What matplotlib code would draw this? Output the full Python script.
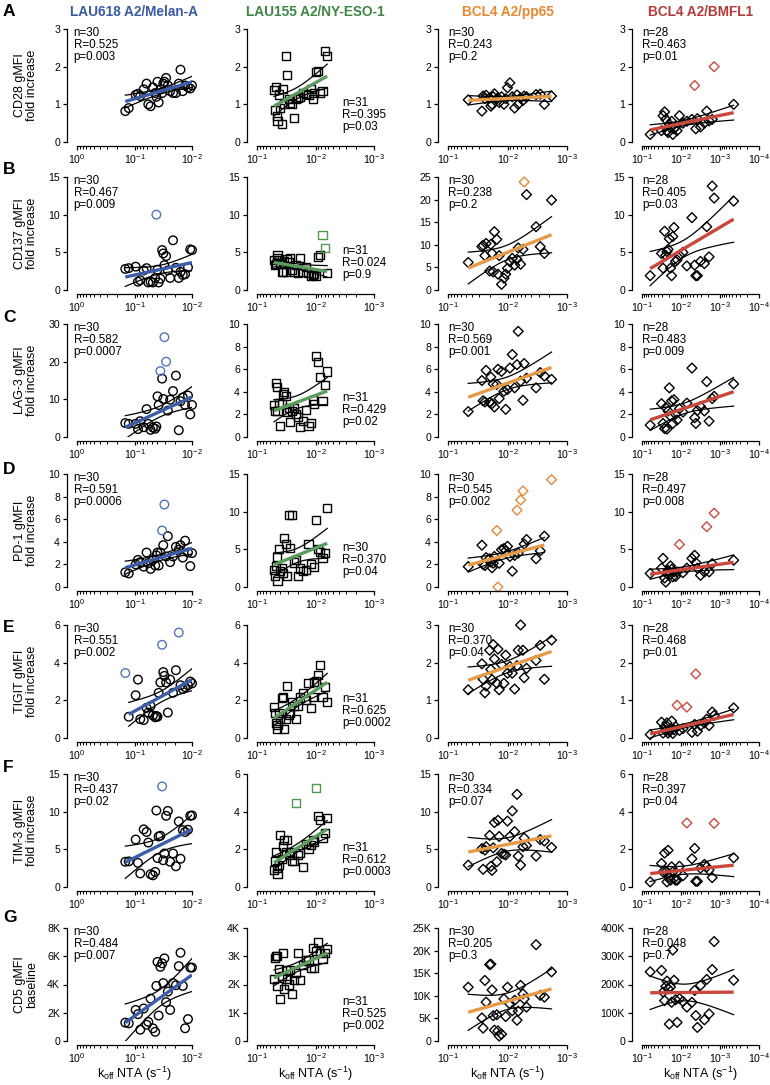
"""Koff vs. activation-marker correlation grid (7 markers x 4 TCR panels)."""
import matplotlib
matplotlib.use("Agg")
import matplotlib.pyplot as plt
import numpy as np
from matplotlib.ticker import FixedLocator, LogLocator, NullFormatter

plt.rcParams.update({
    "font.family": "Liberation Sans",
    "mathtext.fontset": "custom",
    "mathtext.rm": "Liberation Sans",
    "mathtext.it": "Liberation Sans:italic",
    "mathtext.bf": "Liberation Sans:bold",
    "axes.linewidth": 0.9,
})

# ── koff NTA per TCR panel (log10 s^-1) ──────────────────────────────────────
LOGK_MELAN = [-0.84, -0.90, -1.02, -1.06, -1.10, -1.16, -1.21, -1.24, -1.28, -1.32,
              -1.36, -1.38, -1.40, -1.42, -1.45, -1.48, -1.50, -1.52, -1.55, -1.58,
              -1.62, -1.67, -1.72, -1.77, -1.80, -1.84, -1.88, -1.93, -1.97, -2.00]
LOGK_NYESO = [-1.29, -1.31, -1.33, -1.34, -1.35, -1.38, -1.40, -1.42, -1.44, -1.46,
              -1.49, -1.52, -1.54, -1.57, -1.60, -1.63, -1.66, -1.70, -1.74, -1.78,
              -1.83, -1.88, -1.92, -1.95, -1.98, -2.01, -2.05, -2.08, -2.12, -2.16, -2.20]
LOGK_PP65 = [-1.34, -1.57, -1.59, -1.62, -1.64, -1.70, -1.72, -1.74, -1.76, -1.78,
             -1.82, -1.84, -1.86, -1.90, -1.94, -1.97, -2.00, -2.04, -2.08, -2.12,
             -2.16, -2.18, -2.22, -2.26, -2.28, -2.32, -2.48, -2.55, -2.62, -2.74]
LOGK_BMFL1 = [-1.21, -1.50, -1.54, -1.58, -1.61, -1.64, -1.67, -1.70, -1.73, -1.76,
              -1.79, -1.82, -1.86, -1.90, -1.96, -2.05, -2.15, -2.28, -2.35, -2.38,
              -2.42, -2.50, -2.60, -2.66, -2.72, -2.80, -2.85, -3.35]

# ── gMFI values (same clone order as koff) ───────────────────────────────────
CD28_MELAN = [0.82, 0.9, 1.25, 1.28, 1.22, 1.4, 1.55, 1.0, 0.95, 1.45, 1.3, 1.2, 1.6, 1.05, 1.4,
              1.3, 1.55, 1.6, 1.7, 1.5, 1.35, 1.3, 1.3, 1.55, 1.92, 1.35, 1.5, 1.45, 1.42, 1.5]
CD28_NYESO = [1.38, 0.86, 1.47, 0.69, 0.56, 1.26, 0.91, 0.47, 1.41, 1.0, 2.28, 1.77, 1.13, 1.04,
              1.0, 0.63, 1.13, 1.17, 1.2, 1.31, 1.28, 1.25, 1.4, 1.13, 1.31, 1.85, 1.88, 1.31,
              1.35, 2.41, 2.28]
CD28_PP65 = [1.12, 0.82, 1.22, 1.15, 1.24, 1.17, 0.95, 1.0, 1.2, 1.28, 1.15, 1.17, 1.05, 1.2, 1.0,
             1.15, 1.44, 1.57, 1.2, 0.9, 1.25, 1.0, 1.17, 1.1, 1.22, 1.2, 1.26, 1.27, 1.0, 1.22]
CD28_BMFL1 = [0.2, 0.3, 0.7, 0.8, 0.6, 0.3, 0.25, 0.47, 0.38, 0.55, 0.2, 0.35, 0.4, 0.3, 0.7,
              0.5, 0.55, 0.6, 1.5, 0.35, 0.62, 0.4, 0.5, 0.82, 0.56, 0.6, 2.0, 1.0]

CD137_MELAN = [2.8, 2.9, 3.1, 1.1, 1.3, 2.6, 2.9, 1.0, 1.1, 1.0, 1.6, 10.0, 2.7, 1.0, 1.5, 5.3,
               4.85, 3.3, 4.5, 2.6, 1.6, 6.6, 2.95, 1.6, 2.4, 2.0, 2.1, 3.0, 5.4, 5.3]
CD137_NYESO = [4.0, 3.3, 3.5, 4.3, 4.7, 4.0, 3.6, 2.4, 2.4, 3.9, 2.4, 4.1, 3.7, 4.2, 2.6, 2.4,
               3.3, 2.3, 4.2, 2.4, 3.1, 2.3, 1.9, 2.0, 2.1, 1.9, 4.4, 4.6, 7.3, 5.6, 2.3]
CD137_PP65 = [6.1, 9.6, 9.9, 7.6, 10.3, 4.2, 10.1, 8.1, 4.0, 12.9, 11.2, 3.5, 7.6, 1.25, 2.6,
              3.5, 4.8, 6.25, 7.0, 5.5, 6.8, 9.3, 5.7, 9.0, 23.9, 21.1, 14.0, 9.6, 8.1, 19.9]
CD137_BMFL1 = [1.9, 4.85, 2.9, 7.8, 4.6, 5.1, 5.4, 6.8, 2.9, 1.9, 7.1, 8.3, 3.8, 4.0, 4.6, 5.0,
               3.2, 9.6, 3.3, 1.9, 1.9, 3.8, 3.5, 8.4, 4.4, 13.8, 12.2, 11.8]

LAG3_MELAN = [3.7, 3.5, 3.5, 2.1, 4.2, 2.6, 7.4, 3.5, 1.9, 2.5, 2.2, 2.8, 10.8, 8.5, 17.5, 15.5,
              10.1, 26.5, 20.0, 7.0, 9.9, 12.2, 16.3, 1.8, 9.5, 10.5, 8.5, 11.0, 6.0, 8.5]
LAG3_NYESO = [2.8, 2.3, 4.8, 4.4, 2.3, 3.0, 0.95, 2.9, 3.8, 3.95, 3.6, 2.2, 2.6, 1.3, 2.3, 2.6,
              2.0, 1.8, 0.9, 1.45, 2.4, 0.95, 1.2, 3.3, 2.9, 7.15, 6.6, 5.3, 3.2, 4.6, 5.8]
LAG3_PP65 = [2.25, 5.0, 3.2, 3.1, 5.9, 3.05, 5.3, 2.95, 4.7, 2.65, 4.65, 6.0, 3.4, 5.8, 4.05,
             2.45, 4.2, 6.1, 7.3, 4.35, 6.4, 9.35, 4.95, 3.25, 6.5, 5.2, 4.35, 5.7, 5.4, 5.1]
LAG3_BMFL1 = [1.05, 2.95, 1.2, 0.75, 2.6, 0.7, 2.3, 4.35, 1.85, 3.2, 1.2, 3.3, 2.0, 1.5, 2.5,
              2.2, 3.0, 6.1, 1.7, 1.2, 2.35, 2.7, 2.3, 4.9, 1.4, 3.4, 3.6, 4.7]

PD1_MELAN = [1.3, 1.2, 2.0, 2.4, 2.2, 1.8, 3.05, 2.1, 1.6, 2.4, 1.9, 2.8, 3.05, 1.9, 3.05, 5.0,
             3.7, 7.3, 2.7, 4.5, 2.2, 2.7, 3.55, 3.3, 3.7, 2.6, 4.1, 3.05, 1.85, 3.0]
PD1_NYESO = [2.2, 1.5, 2.8, 4.0, 0.75, 5.0, 2.1, 2.5, 1.9, 6.45, 5.65, 1.5, 9.5, 5.2, 9.5, 3.25,
             3.55, 1.5, 2.45, 2.1, 2.3, 5.7, 3.1, np.nan, 2.6, 8.9, 5.1, 4.7, 3.8, 4.5, 10.5]
PD1_PP65 = [1.8, 3.7, 2.0, 1.9, 2.6, 2.5, 2.2, 1.7, 2.1, 2.7, 5.0, 0.0, 2.1, 3.3, 3.4, 3.2, 3.6,
            2.7, 1.4, 2.8, 6.8, 3.0, 7.7, 8.5, 3.8, 4.2, 2.5, 3.2, 4.5, 9.5]
PD1_BMFL1 = [1.8, 2.5, 3.8, 1.2, 0.65, 1.8, 2.2, 1.55, 2.8, 2.35, 1.35, 2.0, 1.4, 2.0, 5.65, 1.9,
             2.5, 3.8, 4.2, 3.25, 2.5, 1.55, 2.0, 8.0, 2.0, 3.1, 9.8, 3.55]

TIGIT_MELAN = [3.45, 1.13, 2.27, 3.1, 1.0, 0.95, 1.6, 1.35, 1.7, 1.2, 1.1, 1.17, 1.13, 2.4, 2.95,
               4.95, 3.5, 3.3, 2.95, 1.35, 3.1, 2.4, 3.6, 5.6, 2.8, 2.6, 2.7, 2.8, 3.0, 2.9]
TIGIT_NYESO = [1.65, 1.35, 0.8, 0.5, 0.7, 1.35, 1.0, 2.1, 2.2, 0.5, 1.0, 2.75, 1.25, 1.35, 1.9,
               1.7, 1.0, 1.7, 2.15, 2.4, 2.0, 2.9, 1.6, 2.2, 2.95, 3.0, 3.35, 3.9, 2.2, 2.7, 1.9]
TIGIT_PP65 = [1.28, 1.97, 1.56, 1.2, 1.38, 2.33, 1.82, 1.55, 2.48, 2.1, 1.45, 2.36, 1.28, 1.95,
              1.45, 2.2, 1.72, 1.9, 1.72, 1.3, 1.92, 2.33, 3.0, 2.33, 1.6, 1.85, 2.06, 2.46,
              1.56, 2.6]
TIGIT_BMFL1 = [0.09, 0.42, 0.13, 0.3, 0.2, 0.4, 0.13, 0.18, 0.24, 0.45, 0.12, 0.22, 0.3, 0.87,
               0.2, 0.25, 0.82, 0.15, 0.36, 1.7, 0.18, 0.33, 0.4, 0.5, 0.33, 0.69, 0.6, 0.8]

TIM3_MELAN = [3.35, 3.4, 6.3, 3.2, 1.8, 7.65, 7.3, 5.9, 1.7, 1.55, 2.0, 10.15, 3.85, 6.7, 6.8,
              13.35, 3.55, 4.45, 9.45, 10.1, 3.35, 4.45, 2.75, 8.7, 3.75, 7.55, 7.3, 7.6, 9.45, 9.5]
TIM3_NYESO = [0.9, 1.4, 1.85, 1.0, 0.7, 1.15, 2.75, 1.5, 2.2, 2.5, 1.85, 2.5, 1.7, 1.85, 1.4,
              1.4, 4.45, 1.7, 1.8, 1.05, 2.3, 2.0, 2.25, 2.5, 2.4, 5.25, 3.75, 3.55, 2.6, 2.85, 3.65]
TIM3_PP65 = [2.9, 5.1, 2.35, 4.9, 5.35, 6.85, 2.75, 2.2, 5.2, 8.55, 3.35, 8.85, 6.7, 4.45, 4.35,
             4.25, 8.75, 6.7, 10.1, 7.35, 12.3, 4.1, 2.9, 5.35, 6.5, 5.5, 4.1, 6.3, 6.1, 5.25]
TIM3_BMFL1 = [0.27, 1.25, 0.8, 1.8, 0.8, 0.27, 1.95, 0.53, 0.36, 1.07, 0.8, 0.45, 0.36, 0.36,
              1.1, 0.6, 3.4, 1.5, 2.05, 0.3, 0.3, 1.0, 1.2, 1.07, 0.9, 0.5, 3.38, 1.55]

# CD5 baseline gMFI, in thousands
CD5_MELAN = [1.3, 1.25, 2.2, 1.9, 0.8, 2.3, 1.15, 1.35, 3.0, 0.9, 0.65, 3.9, 5.6, 1.8, 5.25,
             5.5, 4.1, 5.85, 2.75, 3.5, 2.2, 4.1, 3.95, 5.3, 6.25, 3.9, 0.9, 1.55, 5.2, 5.2]
CD5_NYESO = [2.2, 2.95, 3.0, 3.0, 1.95, 2.55, 1.5, 2.3, 3.1, 1.85, 2.5, 2.2, 2.0, 2.5, 1.65,
             2.15, 2.4, 3.1, 2.15, 2.7, 2.85, 2.85, 2.6, 3.3, 2.6, 3.2, 3.5, 3.1, 2.9, 3.1, 3.25]
CD5_PP65 = [11.9, 5.1, 2.85, 13.4, 8.6, 16.9, 17.0, 11.3, 5.6, 2.4, 5.8, 2.25, 1.1, 1.5, 9.3,
            5.4, 11.9, 8.2, 6.7, 9.0, 4.6, 6.6, 12.3, 10.4, 9.3, 7.5, 21.3, 10.1, 9.7, 15.3]
CD5_BMFL1 = [245, 250, 173, 143, 193, 212, 185, 60, 191, 137, 322, 215, 146, 66, 150, 140, 120,
             137, 179, 90, 48, 197, 75, 218, 96, 253, 352, 215]

# indices of the coloured (excluded) points
OUT_CD137_MELAN = [11]
OUT_CD137_NYESO = [28, 29]
OUT_CD137_PP65 = [24]
OUT_CD28_BMFL1 = [18, 26]
OUT_LAG3_MELAN = [14, 17, 18]
OUT_PD1_MELAN = [15, 17]
OUT_PD1_PP65 = [10, 11, 20, 22, 23, 29]
OUT_PD1_BMFL1 = [14, 23, 26]
OUT_TIGIT_MELAN = [0, 15, 23]
OUT_TIGIT_BMFL1 = [13, 16, 19]
OUT_TIM3_MELAN = [15]
OUT_TIM3_NYESO = [16, 25]
OUT_TIM3_BMFL1 = [16, 26]

# stats text: (n, R, p)
STATS = [
    [("30", "0.525", "0.003"), ("31", "0.395", "0.03"), ("30", "0.243", "0.2"), ("28", "0.463", "0.01")],
    [("30", "0.467", "0.009"), ("31", "0.024", "0.9"), ("30", "0.238", "0.2"), ("28", "0.405", "0.03")],
    [("30", "0.582", "0.0007"), ("31", "0.429", "0.02"), ("30", "0.569", "0.001"), ("28", "0.483", "0.009")],
    [("30", "0.591", "0.0006"), ("30", "0.370", "0.04"), ("30", "0.545", "0.002"), ("28", "0.497", "0.008")],
    [("30", "0.551", "0.002"), ("31", "0.625", "0.0002"), ("30", "0.370", "0.04"), ("28", "0.468", "0.01")],
    [("30", "0.437", "0.02"), ("31", "0.612", "0.0003"), ("30", "0.334", "0.07"), ("28", "0.397", "0.04")],
    [("30", "0.484", "0.007"), ("31", "0.525", "0.002"), ("30", "0.205", "0.3"), ("28", "0.048", "0.7")],
]

COL_TITLES = ["LAU618 A2/Melan-A", "LAU155 A2/NY-ESO-1", "BCL4 A2/pp65", "BCL4 A2/BMFL1"]
ROW_LETTERS = ["A", "B", "C", "D", "E", "F", "G"]
ROW_LABELS = ["CD28 gMFI\nfold increase", "CD137 gMFI\nfold increase", "LAG-3 gMFI\nfold increase",
              "PD-1 gMFI\nfold increase", "TIGIT gMFI\nfold increase", "TIM-3 gMFI\nfold increase",
              "CD5 gMFI\nbaseline"]

# (ymax, ystep) per row/column
Y_RANGES = [
    [(3, 1), (3, 1), (3, 1), (3, 1)],
    [(15, 5), (15, 5), (25, 5), (15, 5)],
    [(30, 10), (10, 2), (10, 2), (10, 2)],
    [(10, 2), (15, 5), (10, 2), (15, 5)],
    [(6, 2), (6, 2), (3, 1), (3, 1)],
    [(15, 5), (6, 2), (15, 5), (6, 2)],
    [(8, 2), (4, 1), (25, 5), (400, 100)],
]

# ── style ────────────────────────────────────────────────────────────────────
TITLE_COLORS = ["#3a5aa6", "#3f8546", "#e8892f", "#b43a3c"]
FIT_COLORS = ["#3d5da8", "#5b9b5e", "#e59a48", "#c9473c"]
OUT_COLORS = ["#5574b8", "#4e9a56", "#e08a3a", "#cc4a40"]
MARKERS = [("o", 38), ("s", 34), ("D", 25), ("D", 25)]
XLIMS = [(1, 1e-2), (1e-1, 1e-3), (1e-1, 1e-3), (1e-1, 1e-4)]

W, H = 770, 1085
COL_LEFT = [77, 257, 448, 642]
COL_W = [115, 117, 119, 117]
ROW_TOP = [29, 177, 324, 474, 625, 774, 928]
ROW_H = 113
LETTER_Y = [12, 170, 318, 470, 627, 767, 917]


def fit_with_band(ax, koff, y, color):
    lx, yy = np.log10(koff), y
    n = len(lx)
    b, a = np.polyfit(lx, yy, 1)
    s = np.sqrt(np.sum((yy - (a + b * lx)) ** 2) / (n - 2))
    sxx = np.sum((lx - lx.mean()) ** 2)
    xg = np.linspace(lx.min(), lx.max(), 80)
    fit = a + b * xg
    half = 2.05 * s * np.sqrt(1.0 / n + (xg - lx.mean()) ** 2 / sxx)
    ax.plot(10 ** xg, fit + half, color="black", lw=0.9, zorder=3)
    ax.plot(10 ** xg, fit - half, color="black", lw=0.9, zorder=3)
    ax.plot(10 ** xg, fit, color=color, lw=2.4, zorder=4, solid_capstyle="butt")


def draw_panel(ax, r, c, logk, vals, outliers):
    koff = 10.0 ** np.asarray(logk)
    y = np.asarray(vals, dtype=float)
    keep = ~np.isnan(y)
    keep[outliers] = False
    marker, size = MARKERS[c]

    ax.scatter(koff[keep], y[keep], marker=marker, s=size, facecolors="none",
               edgecolors="black", linewidths=1.0, zorder=2, clip_on=False)
    if outliers:
        ax.scatter(koff[outliers], y[outliers], marker=marker, s=size, facecolors="none",
                   edgecolors=OUT_COLORS[c], linewidths=1.0, zorder=2, clip_on=False)
    fit_with_band(ax, koff[keep], y[keep], FIT_COLORS[c])

    ax.set_xscale("log")
    ax.set_xlim(*XLIMS[c])
    ymax, ystep = Y_RANGES[r][c]
    ax.set_ylim(0, ymax)
    yt = np.arange(0, ymax + ystep / 2, ystep)
    ax.yaxis.set_major_locator(FixedLocator(yt))
    if r == 6:
        ax.set_yticklabels(["0"] + [f"{v:g}K" for v in yt[1:]])
    else:
        ax.set_yticklabels([f"{v:g}" for v in yt])

    lo, hi = XLIMS[c]
    decades = np.arange(int(round(np.log10(hi))), int(round(np.log10(lo))) + 1)
    ax.xaxis.set_major_locator(FixedLocator(10.0 ** decades))
    ax.set_xticklabels([f"$10^{{{d}}}$" for d in decades])
    ax.xaxis.set_minor_locator(LogLocator(base=10, subs=np.arange(2, 10), numticks=20))
    ax.xaxis.set_minor_formatter(NullFormatter())

    for side in ("top", "right"):
        ax.spines[side].set_visible(False)
    ax.spines["left"].set_position(("outward", 7.5))
    ax.spines["bottom"].set_position(("outward", 3))
    ax.tick_params(axis="both", which="major", direction="out", length=3.2, width=0.9,
                   labelsize=7.6, pad=1.5)
    ax.tick_params(axis="x", which="minor", direction="out", length=2.0, width=0.7)
    ax.patch.set_visible(False)

    n, rv, p = STATS[r][c]
    txt = f"n={n}\nR={rv}\np={p}"
    if c == 1:
        ax.text(0.73, 0.08, txt, transform=ax.transAxes, ha="left", va="bottom",
                fontsize=8.4, linespacing=1.0)
    else:
        x0 = -0.03 if c == 0 else 0.0
        ax.text(x0, 1.02, txt, transform=ax.transAxes, ha="left", va="top",
                fontsize=8.4, linespacing=1.0)


PANEL_DATA = [
    [(CD28_MELAN, []), (CD28_NYESO, []), (CD28_PP65, []), (CD28_BMFL1, OUT_CD28_BMFL1)],
    [(CD137_MELAN, OUT_CD137_MELAN), (CD137_NYESO, OUT_CD137_NYESO),
     (CD137_PP65, OUT_CD137_PP65), (CD137_BMFL1, [])],
    [(LAG3_MELAN, OUT_LAG3_MELAN), (LAG3_NYESO, []), (LAG3_PP65, []), (LAG3_BMFL1, [])],
    [(PD1_MELAN, OUT_PD1_MELAN), (PD1_NYESO, []), (PD1_PP65, OUT_PD1_PP65),
     (PD1_BMFL1, OUT_PD1_BMFL1)],
    [(TIGIT_MELAN, OUT_TIGIT_MELAN), (TIGIT_NYESO, []), (TIGIT_PP65, []),
     (TIGIT_BMFL1, OUT_TIGIT_BMFL1)],
    [(TIM3_MELAN, OUT_TIM3_MELAN), (TIM3_NYESO, OUT_TIM3_NYESO), (TIM3_PP65, []),
     (TIM3_BMFL1, OUT_TIM3_BMFL1)],
    [(CD5_MELAN, []), (CD5_NYESO, []), (CD5_PP65, []), (CD5_BMFL1, [])],
]
LOGKS = [LOGK_MELAN, LOGK_NYESO, LOGK_PP65, LOGK_BMFL1]

fig = plt.figure(figsize=(W / 100, H / 100), dpi=100)

for r in range(7):
    for c in range(4):
        ax = fig.add_axes([COL_LEFT[c] / W, 1 - (ROW_TOP[r] + ROW_H) / H,
                           COL_W[c] / W, ROW_H / H])
        vals, outs = PANEL_DATA[r][c]
        draw_panel(ax, r, c, LOGKS[c], vals, outs)

    fig.text(3 / W, 1 - LETTER_Y[r] / H, ROW_LETTERS[r], fontsize=12.5, fontweight="bold",
             ha="left", va="center")
    fig.text(26 / W, 1 - (ROW_TOP[r] + ROW_H / 2) / H, ROW_LABELS[r], rotation=90,
             fontsize=9, ha="center", va="center", linespacing=1.0, multialignment="center")

for c in range(4):
    xc = (COL_LEFT[c] + COL_W[c] / 2) / W
    fig.text(xc, 1 - 12 / H, COL_TITLES[c], fontsize=9.8, fontweight="bold",
             color=TITLE_COLORS[c], ha="center", va="center")
    fig.text(xc, 1 - 1074 / H, r"k$_{\mathrm{off}}$ NTA (s$^{-1}$)", fontsize=9,
             ha="center", va="center")

fig.savefig("out.png", dpi=100)
